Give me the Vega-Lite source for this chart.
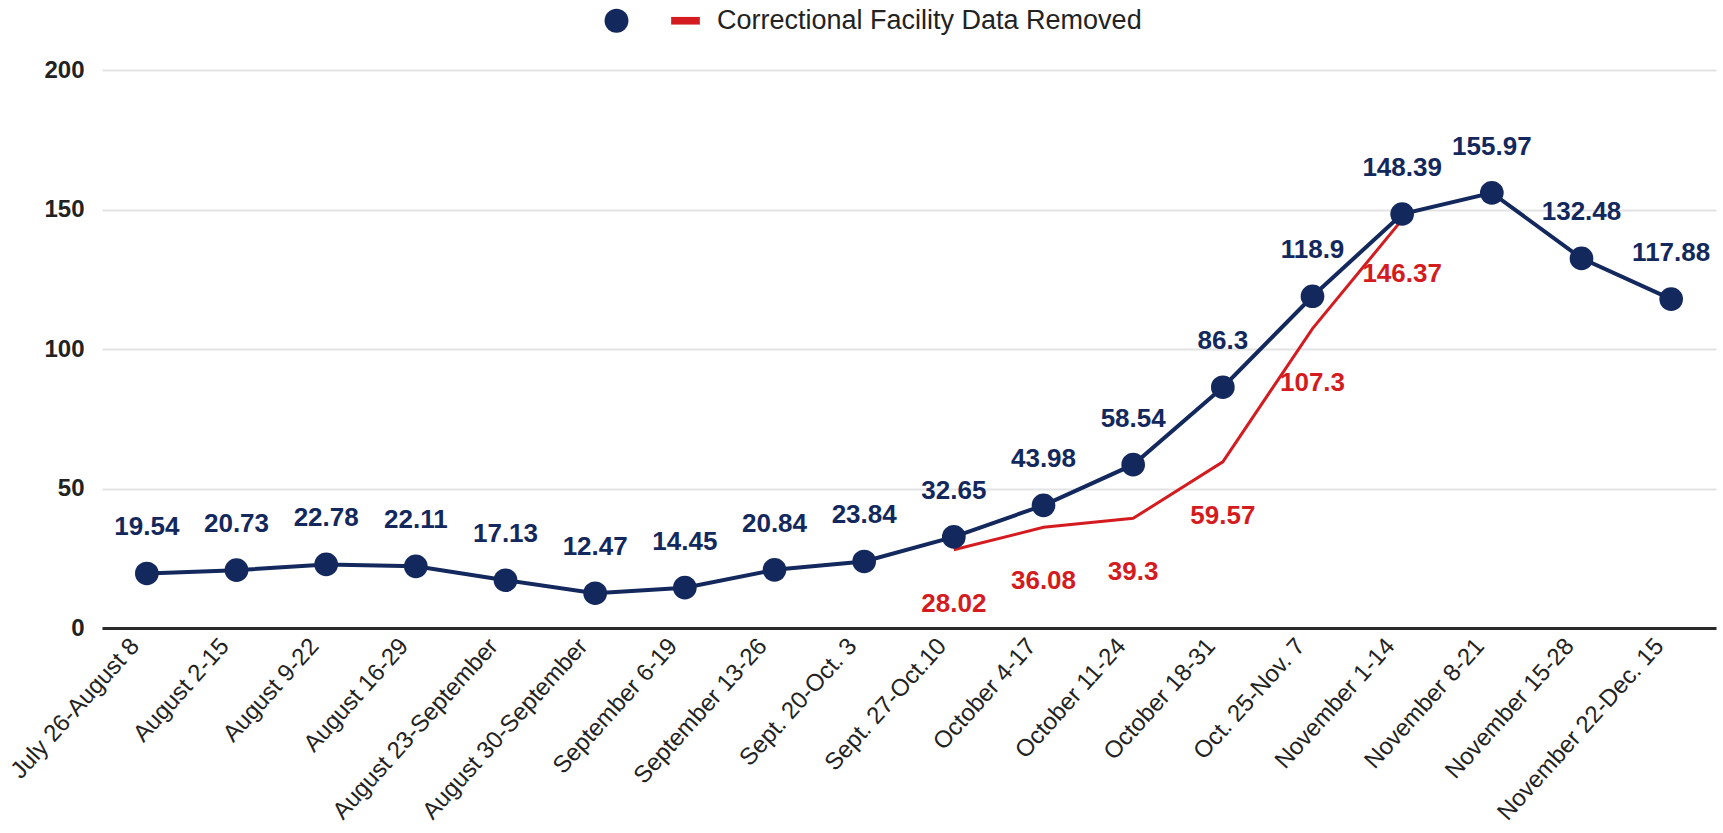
{
  "$schema": "https://vega.github.io/schema/vega-lite/v6.json",
  "autosize": {"type": "none"},
  "padding": {"left": 102, "top": 70, "right": 7, "bottom": 205},
  "width": 1614,
  "height": 558,
  "background": "white",
  "config": {
    "view": {"stroke": null},
    "font": "Liberation Sans"
  },
  "data": {
    "values": [
      {"period": "July 26-August 8", "value": 19.54, "series": "Overall"},
      {"period": "August 2-15", "value": 20.73, "series": "Overall"},
      {"period": "August 9-22", "value": 22.78, "series": "Overall"},
      {"period": "August 16-29", "value": 22.11, "series": "Overall"},
      {"period": "August 23-September", "value": 17.13, "series": "Overall"},
      {"period": "August 30-September", "value": 12.47, "series": "Overall"},
      {"period": "September 6-19", "value": 14.45, "series": "Overall"},
      {"period": "September 13-26", "value": 20.84, "series": "Overall"},
      {"period": "Sept. 20-Oct. 3", "value": 23.84, "series": "Overall"},
      {"period": "Sept. 27-Oct.10", "value": 32.65, "series": "Overall"},
      {"period": "October 4-17", "value": 43.98, "series": "Overall"},
      {"period": "October 11-24", "value": 58.54, "series": "Overall"},
      {"period": "October 18-31", "value": 86.3, "series": "Overall"},
      {"period": "Oct. 25-Nov. 7", "value": 118.9, "series": "Overall"},
      {"period": "November 1-14", "value": 148.39, "series": "Overall"},
      {"period": "November 8-21", "value": 155.97, "series": "Overall"},
      {"period": "November 15-28", "value": 132.48, "series": "Overall"},
      {"period": "November 22-Dec. 15", "value": 117.88, "series": "Overall"},
      {"period": "Sept. 27-Oct.10", "value": 28.02, "series": "Correctional Facility Data Removed"},
      {"period": "October 4-17", "value": 36.08, "series": "Correctional Facility Data Removed"},
      {"period": "October 11-24", "value": 39.3, "series": "Correctional Facility Data Removed"},
      {"period": "October 18-31", "value": 59.57, "series": "Correctional Facility Data Removed"},
      {"period": "Oct. 25-Nov. 7", "value": 107.3, "series": "Correctional Facility Data Removed"},
      {"period": "November 1-14", "value": 146.37, "series": "Correctional Facility Data Removed"}
    ]
  },
  "encoding": {
    "x": {
      "field": "period", "type": "ordinal", "sort": null,
      "scale": {"type": "point", "padding": 0.5},
      "axis": {
        "title": null, "labelAngle": -48, "labelFontSize": 24, "labelColor": "#222222",
        "labelPadding": 14, "labelOffset": -12, "ticks": false, "domainColor": "#2a2a2a", "domainWidth": 3,
        "grid": false, "labelFont": "Liberation Sans", "labelOverlap": false, "labelLimit": 0
      }
    },
    "y": {
      "field": "value", "type": "quantitative",
      "scale": {"domain": [0, 200]},
      "axis": {
        "title": null, "values": [0, 50, 100, 150, 200], "domain": false, "ticks": false,
        "labelFontSize": 24, "labelFontWeight": "bold", "labelColor": "#222222", "labelPadding": 18,
        "gridColor": "#e3e3e3", "gridWidth": 2, "labelFont": "Liberation Sans"
      }
    },
    "color": {
      "field": "series", "type": "nominal",
      "scale": {"domain": ["Overall", "Correctional Facility Data Removed"], "range": ["#13285c", "#d41c20"]},
      "legend": {
        "orient": "none", "legendX": 501, "legendY": -63, "direction": "horizontal",
        "title": null, "labelFontSize": 27, "labelColor": "#222222", "labelFont": "Liberation Sans",
        "symbolSize": 572, "symbolStrokeWidth": 0, "labelOffset": 18, "columnPadding": 23, "padding": 0,
        "labelLimit": 0,
        "labelExpr": "datum.label == 'Overall' ? '' : datum.label"
      }
    }
  },
  "layer": [
    {
      "transform": [{"filter": "datum.series == 'Overall'"}],
      "mark": {"type": "line", "strokeWidth": 4}
    },
    {
      "transform": [{"filter": "datum.series != 'Overall'"}],
      "mark": {"type": "line", "strokeWidth": 3}
    },
    {
      "transform": [{"filter": "datum.series == 'Overall'"}],
      "mark": {"type": "point", "filled": true, "size": 560, "opacity": 1},
      "encoding": {
        "shape": {
          "field": "series", "type": "nominal",
          "scale": {"domain": ["Overall", "Correctional Facility Data Removed"], "range": ["circle", "M-1.2,-0.32H1.2V0.32H-1.2Z"]},
          "legend": {
            "orient": "none", "legendX": 501, "legendY": -63, "direction": "horizontal",
            "title": null, "labelFontSize": 27, "labelColor": "#222222", "labelFont": "Liberation Sans",
            "symbolSize": 572, "symbolStrokeWidth": 0, "labelOffset": 18, "columnPadding": 23, "padding": 0,
            "labelLimit": 0,
            "labelExpr": "datum.label == 'Overall' ? '' : datum.label"
          }
        }
      }
    },
    {
      "transform": [{"filter": "datum.series == 'Overall'"}],
      "mark": {"type": "text", "dy": -46, "fontSize": 26, "fontWeight": "bold", "baseline": "middle", "align": "center", "font": "Liberation Sans"},
      "encoding": {"text": {"field": "value", "type": "nominal"}}
    },
    {
      "transform": [{"filter": "datum.series != 'Overall'"}],
      "mark": {"type": "text", "dy": 54, "fontSize": 26, "fontWeight": "bold", "baseline": "middle", "align": "center", "font": "Liberation Sans"},
      "encoding": {"text": {"field": "value", "type": "nominal"}}
    }
  ]
}
